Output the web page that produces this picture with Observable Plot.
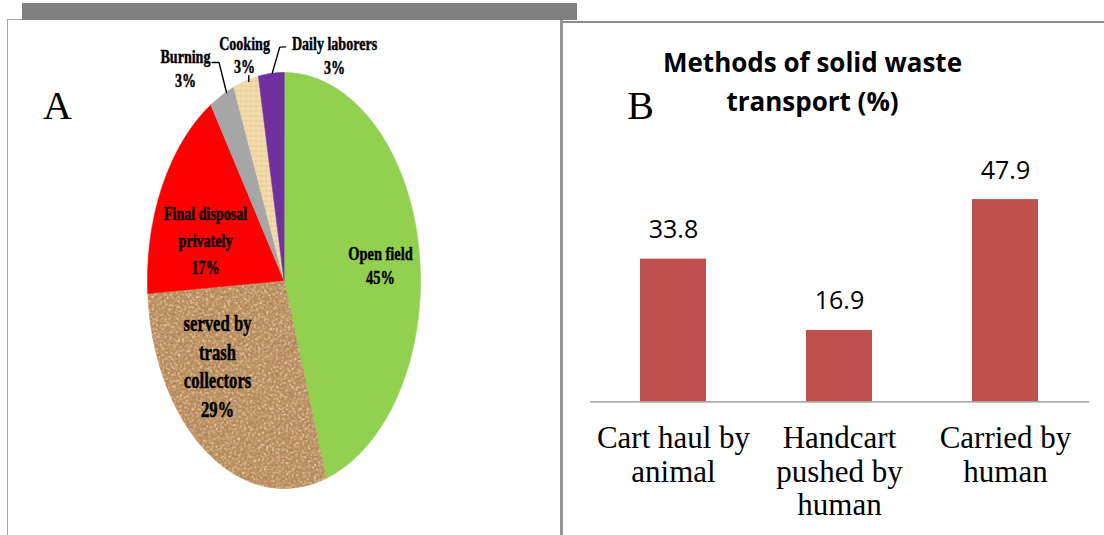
<!DOCTYPE html>
<html><head><meta charset="utf-8">
<script src="https://cdn.jsdelivr.net/npm/d3@7"></script>
<script src="https://cdn.jsdelivr.net/npm/@observablehq/plot@0.6"></script>
<style>
body{margin:0;background:#fff;}
#wrap{position:relative;width:1104px;height:535px;overflow:hidden;background:#fff;}
.deco{position:absolute;}
#pie{position:absolute;left:0;top:0;}
#bar{position:absolute;left:560px;top:0;}
</style></head><body>
<div id="wrap">
 <div id="pie"></div><div id="bar"></div>
 <div class="deco" style="left:22px;top:3px;width:555px;height:17px;background:#808080"></div>
 <div class="deco" style="left:7px;top:19px;width:1px;height:520px;background:#a6a6a6"></div>
 <div class="deco" style="left:7px;top:19px;width:15px;height:1px;background:#a6a6a6"></div>
 <div class="deco" style="left:560px;top:20px;width:3px;height:520px;background:#969696"></div>
 <div class="deco" style="left:563px;top:21px;width:541px;height:2px;background:#8c8c8c"></div>
</div>
<script>
// ---- Panel A data ----
const wasteNames = ["Open field", "served by trash collectors", "Final disposal privately", "Burning", "Cooking", "Daily laborers"];
const wasteShares = [45, 29, 17, 3, 3, 3];
const wasteLabels = ["Open field\n45%", "served by\ntrash\ncollectors\n29%", "Final disposal\nprivately\n17%", "Burning\n3%", "Cooking\n3%", "Daily laborers\n3%"];
const sliceColors = ["#92D050", "url(#cork)", "#FF0000", "#A6A6A6", "url(#wheat)", "#7030A0"];

// ---- Panel B data ----
const transportMethods = ["Cart haul by animal", "Handcart pushed by human", "Carried by human"];
const transportShares = [33.8, 16.9, 47.9];
const transportTickLabels = ["Cart haul by\nanimal", "Handcart\npushed by\nhuman", "Carried by\nhuman"];

// ---- layout (unit-circle coordinates for pie annotations) ----
const labelLayout = [
  {x: 0.707, y: 0.077, size: 19.5, lh: 1.23},
  {x: -0.487, y: -0.405, size: 22.5, lh: 1.27},
  {x: -0.575, y: 0.202, size: 19, lh: 1.42},
  {x: -0.722, y: 1.026, size: 19, lh: 1.3},
  {x: -0.289, y: 1.089, size: 19, lh: 1.25},
  {x: 0.370, y: 1.087, size: 19, lh: 1.28}
];
const leaderLayout = [
  [[-0.527, 1.048], [-0.476, 1.048], [-0.421, 0.904]],
  [[-0.258, 0.985], [-0.258, 0.957]],
  [[-0.086, 0.997], [-0.031, 1.122], [0.011, 1.123]]
];

const slices = wasteNames.map((name, i) => ({name, value: wasteShares[i]}));
const arcs = d3.pie().sort(null).value(d => d.value).startAngle(0).endAngle(2 * Math.PI)(slices);
const slicePts = arcs.flatMap(a => {
  const n = Math.max(2, Math.ceil((a.endAngle - a.startAngle) / (Math.PI / 180)));
  const pts = [{name: a.data.name, x: 0, y: 0}];
  for (let i = 0; i <= n; i++) {
    const t = a.startAngle + (a.endAngle - a.startAngle) * i / n;
    pts.push({name: a.data.name, x: Math.sin(t), y: Math.cos(t)});
  }
  return pts;
});
const leaders = leaderLayout.flatMap((seg, id) => seg.map(([x, y]) => ({id, x, y})));

const pie = Plot.plot({
  width: 560, height: 535, margin: 0,
  x: {domain: [-1, 1], range: [147, 420], axis: null},
  y: {domain: [-1, 1], range: [488, 72], axis: null},
  color: {domain: wasteNames, range: sliceColors},
  marks: [
    Plot.line(slicePts, {x: "x", y: "y", z: "name", fill: "name", stroke: "name", strokeWidth: 0.6, curve: "linear-closed"}),
    Plot.line(leaders, {x: "x", y: "y", z: "id", stroke: "black", strokeWidth: 1.4}),
    ...wasteLabels.map((text, i) => Plot.text([{text, ...labelLayout[i]}], {
      x: "x", y: "y", text: "text", fontSize: labelLayout[i].size, lineHeight: labelLayout[i].lh,
      fontWeight: "bold", fontFamily: "Liberation Serif", fill: "black", stroke: "black", strokeWidth: 0.45
    })),
    Plot.text(["A"], {frameAnchor: "top-left", textAnchor: "middle", lineAnchor: "bottom", dx: 57, dy: 118, fontSize: 40, fontFamily: "Liberation Serif", fill: "black"})
  ]
});
const NS = "http://www.w3.org/2000/svg";
const defs = document.createElementNS(NS, "defs");
defs.innerHTML = `
<filter id="corkDark" x="0" y="0" width="1" height="1">
  <feTurbulence type="fractalNoise" baseFrequency="0.45" numOctaves="3" seed="7"/>
  <feColorMatrix type="matrix" values="0 0 0 0 0.36  0 0 0 0 0.21  0 0 0 0 0.09  -3.8 0 0 0 2.0"/>
</filter>
<filter id="corkLight" x="0" y="0" width="1" height="1">
  <feTurbulence type="fractalNoise" baseFrequency="0.5" numOctaves="2" seed="21"/>
  <feColorMatrix type="matrix" values="0 0 0 0 0.92  0 0 0 0 0.78  0 0 0 0 0.58  0 3.4 0 0 -1.6"/>
</filter>
<pattern id="cork" patternUnits="userSpaceOnUse" x="0" y="0" width="560" height="535">
  <rect width="560" height="535" fill="#BE8E5E"/>
  <rect width="560" height="535" filter="url(#corkLight)"/>
  <rect width="560" height="535" filter="url(#corkDark)"/>
</pattern>
<pattern id="wheat" patternUnits="userSpaceOnUse" x="0" y="0" width="5" height="5">
  <rect width="5" height="5" fill="#F3DCAE"/>
  <rect width="5" height="1" fill="#E6C48C" opacity="0.7"/>
  <rect width="1" height="5" fill="#E9CC98" opacity="0.6"/>
</pattern>`;
pie.insertBefore(defs, pie.firstChild);
pie.querySelectorAll("text").forEach(t => {
  if (t.textContent === "A") return;
  let tr = t.getAttribute("transform");
  if (!tr) {
    const x = t.getAttribute("x") || 0, y = t.getAttribute("y") || 0;
    t.removeAttribute("x"); t.removeAttribute("y");
    tr = `translate(${x},${y})`;
  }
  t.setAttribute("transform", tr + " scale(0.74,1)");
});
document.getElementById("pie").append(pie);

const transport = transportMethods.map((method, i) => ({method, share: transportShares[i], tick: transportTickLabels[i]}));
const bars = Plot.plot({
  width: 544, height: 535, marginLeft: 30, marginRight: 15, marginTop: 148, marginBottom: 133.7,
  x: {domain: transportMethods, paddingInner: 0.6, paddingOuter: 0.3, axis: null},
  y: {domain: [0, 60], axis: null},
  marks: [
    Plot.barY(transport, {x: "method", y: "share", fill: "#C0504D"}),
    Plot.ruleY([0], {stroke: "#8c8c8c", strokeWidth: 1.3}),
    Plot.text(transport, {x: "method", y: "share", text: d => d.share.toFixed(1), lineAnchor: "bottom", dy: -21, fontFamily: "Open Sans", fontSize: 25, fill: "black"}),
    Plot.text(transport, {x: "method", y: 0, text: "tick", lineAnchor: "top", dy: 22, fontSize: 31, lineHeight: 1.09, fontFamily: "Liberation Serif", fill: "black"}),
    Plot.text(["Methods of solid waste\ntransport (%)"], {frameAnchor: "top", lineAnchor: "bottom", dx: -27.5, dy: -38, fontFamily: "Open Sans", fontWeight: "bold", fontSize: 26, lineHeight: 1.5, fill: "black"}),
    Plot.text(["B"], {frameAnchor: "top-left", textAnchor: "middle", lineAnchor: "bottom", dx: 50, dy: -30, fontSize: 40, fontFamily: "Liberation Serif", fill: "black"})
  ]
});
document.getElementById("bar").append(bars);
</script>
</body></html>
